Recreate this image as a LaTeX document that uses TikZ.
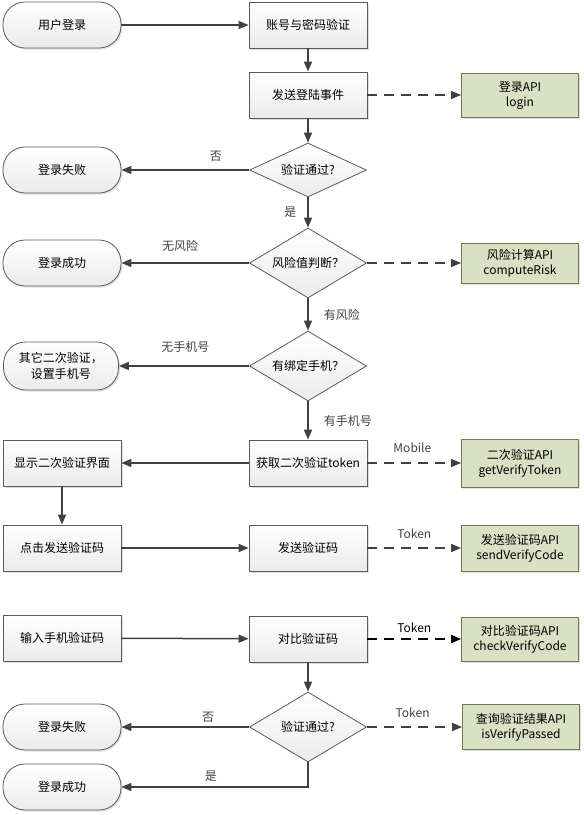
\documentclass[tikz,border=0pt]{standalone}
\usepackage{fontspec}
\setmainfont{Noto Sans CJK SC}
\usetikzlibrary{arrows.meta,positioning,calc,shapes.geometric,shadows}
\definecolor{edgegray}{HTML}{404040}
\definecolor{boxline}{HTML}{5A5A5A}
\definecolor{apifill}{HTML}{D9E0C4}
\definecolor{apiline}{HTML}{6E7A50}
\tikzset{
  % Start / end terminals
  term/.style={draw=boxline,line width=0.8pt,top color=white,bottom color=gray!16,
               rounded corners=22pt,minimum width=118pt,minimum height=46pt,
               align=center,inner sep=1pt,font=\fontsize{12}{16}\selectfont,
               drop shadow={shadow xshift=1.5pt,shadow yshift=-1.5pt,opacity=0.25}},
  % Process steps
  stepbox/.style={draw=boxline,line width=0.8pt,top color=white,bottom color=gray!16,
                  minimum width=118pt,minimum height=46pt,align=center,inner sep=1pt,
                  font=\fontsize{12}{16}\selectfont,
                  drop shadow={shadow xshift=1.5pt,shadow yshift=-1.5pt,opacity=0.25}},
  % Decisions
  decide/.style={diamond,draw=boxline,line width=0.8pt,top color=white,bottom color=gray!16,
                 minimum width=117pt,minimum height=70pt,aspect=1.67,inner sep=0pt,
                 font=\fontsize{12}{16}\selectfont},
  % Backend calls
  api/.style={draw=apiline,line width=0.8pt,fill=apifill,minimum width=117pt,
              minimum height=44pt,align=center,inner sep=1pt,
              font=\fontsize{12}{15}\selectfont,
              drop shadow={shadow xshift=1.5pt,shadow yshift=-1.5pt,opacity=0.25}},
  % Connectors & labels
  fl/.style={-{Triangle[length=10pt,width=8pt]},edgegray,line width=1.5pt},
  dfl/.style={-{Triangle[length=10pt,width=8pt]},edgegray,line width=1.5pt,
              dash pattern=on 10pt off 7pt},
  lbl/.style={font=\fontsize{12}{14}\selectfont,inner sep=1pt}
}

\begin{document}
\begin{tikzpicture}[x=1pt,y=-1pt]
  \useasboundingbox (0,0) rectangle (584,815);

  % main column
  \node[term]    (start)  at (62,25)   {用户登录};
  \node[stepbox] (acct)   at (308,25)  {账号与密码验证};
  \node[stepbox] (event)  at (308,95)  {发送登陆事件};
  \node[decide,minimum height=54pt,aspect=2.17] (chk1) at (308,170) {验证通过?};
  \node[decide]  (risk)   at (308,263) {风险值判断？};
  \node[decide]  (phone)  at (308,366) {有绑定手机？};
  \node[stepbox] (token)  at (308,463) {获取二次验证token};
  \node[stepbox] (send)   at (308,548) {发送验证码};
  \node[stepbox] (cmp)    at (308,639) {对比验证码};
  \node[decide]  (chk2)   at (308,727) {验证通过?};

  % left column
  \node[term]    (fail1)  at (62,170)  {登录失败};
  \node[term]    (ok1)    at (62,263)  {登录成功};
  \node[term,minimum width=115pt,minimum height=48pt] (other) at (61,366) {其它二次验证，\\设置手机号};
  \node[stepbox] (show)   at (62,463)  {显示二次验证界面};
  \node[stepbox] (click)  at (62,548)  {点击发送验证码};
  \node[stepbox] (input)  at (62,638)  {输入手机验证码};
  \node[term]    (fail2)  at (62,727)  {登录失败};
  \node[term]    (ok2)    at (62,787)  {登录成功};

  % API column
  \node[api] (apiLogin) at (520,95)  {登录API\\login};
  \node[api,minimum height=40pt] (apiRisk) at (520,263) {风险计算API\\computeRisk};
  \node[api,minimum height=48pt] (apiToken) at (520,463) {二次验证API\\getVerifyToken};
  \node[api,minimum height=46pt] (apiSend) at (520,548) {发送验证码API\\sendVerifyCode};
  \node[api] (apiCmp) at (520,639) {对比验证码API\\checkVerifyCode};
  \node[api,minimum height=45pt] (apiPass) at (521,727) {查询验证结果API\\isVerifyPassed};

  % login flow
  \draw[fl] (start) -- (acct);
  \draw[fl] (acct) -- (event);
  \draw[fl] (event) -- (chk1);
  \draw[fl] (chk1) -- node[lbl,pos=0.26,above=7pt] {否} (fail1);
  \draw[fl] (chk1) -- node[lbl,left=10pt] {是} (risk);
  \draw[fl] (risk) -- node[lbl,pos=0.54,above=10pt] {无风险} (ok1);
  \draw[fl] (risk) -- node[lbl,right=14pt] {有风险} (phone);
  \draw[fl] (phone) -- node[lbl,pos=0.49,above=12pt] {无手机号} (other);
  \draw[fl] (phone) -- node[lbl,right=14pt] {有手机号} (token);

  % second verification
  \draw[fl] (token) -- (show);
  \draw[fl] (show) -- (click);
  \draw[fl] (click) -- (send);
  \draw[fl] (input) -- (cmp);
  \draw[fl] (cmp) -- (chk2);
  \draw[fl] (chk2) -- node[lbl,pos=0.32,above=3pt] {否} (fail2);
  \draw[fl] (chk2) |- node[lbl,pos=0.76,above=4pt] {是} (ok2);

  % API calls
  \draw[dfl] (event) -- (apiLogin);
  \draw[dfl] (risk) -- (apiRisk);
  \draw[dfl] (token) -- node[lbl,pos=0.48,above=9pt] {Mobile} (apiToken);
  \draw[dfl] (send) -- node[lbl,pos=0.5,above=8pt] {Token} (apiSend);
  \draw[dfl,black,line width=1.8pt] (cmp) -- node[lbl,pos=0.5,above=4pt] {Token} (apiCmp);
  \draw[dfl] (chk2) -- node[lbl,pos=0.48,above=8pt] {Token} (apiPass);
\end{tikzpicture}
\end{document}
